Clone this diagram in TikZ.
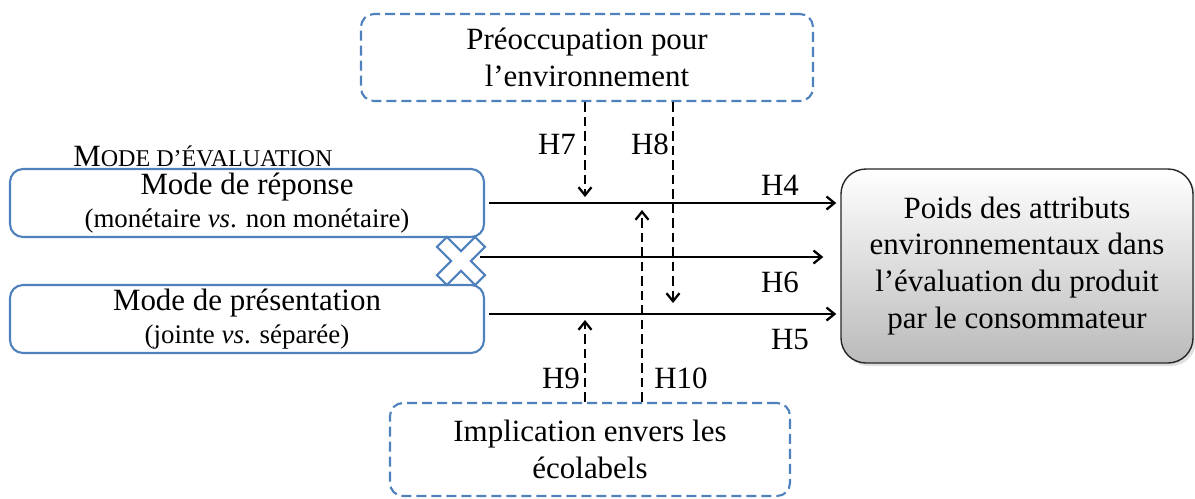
\documentclass[tikz,border=0pt]{standalone}
\usepackage{fontspec}
\setmainfont{Liberation Serif}
\usepackage{tikz}
\usetikzlibrary{arrows.meta}
\usetikzlibrary{shadows}
\definecolor{boxblue}{RGB}{79,129,189}
\newcommand{\bigtxt}{\fontsize{17.6}{21}\selectfont}
\newcommand{\smalltxt}{\fontsize{15.3}{18}\selectfont}
\newcommand{\sctxt}{\fontsize{13.7}{16}\selectfont}
\tikzset{>={Straight Barb[length=1.6mm,width=2.6mm]}}
\tikzset{modebox/.style={draw=boxblue, line width=1.2pt, rounded corners=2.6mm,
    minimum width=9.48cm, minimum height=1.36cm, align=center, inner sep=0pt}}
\tikzset{modbox/.style={draw=boxblue, line width=1.2pt, dash pattern=on 2mm off 1mm,
    rounded corners=2.6mm, align=center, inner sep=0pt}}
\tikzset{poidsbox/.style={draw=black!85, line width=0.8pt, rounded corners=5mm,
    top color=white, bottom color=black!27, minimum width=7.04cm, minimum height=3.88cm,
    align=center, inner sep=0pt,
    drop shadow={opacity=0.25, shadow xshift=0.6mm, shadow yshift=-0.6mm}}}
\tikzset{effect/.style={->, line width=1.3pt}}
\tikzset{moder/.style={->, line width=1.3pt, dash pattern=on 1.9mm off 1mm}}
\tikzset{hyp/.style={inner sep=0pt}}

\begin{document}
\begin{tikzpicture}[x=0.2mm, y=-0.2mm, font=\bigtxt]
\useasboundingbox (0,0) rectangle (1195,498);
    %boxes
    \node[modbox, minimum width=9.04cm, minimum height=1.74cm] (env) at (587,57.5)
        {Préoccupation pour\\l’environnement};
    \node[modebox] (rep) at (247,203)
        {Mode de réponse\\[-2.3pt]{\smalltxt (monétaire \textit{vs}. non monétaire)}};
    \node[modebox] (pres) at (247,319)
        {Mode de présentation\\[-2.3pt]{\smalltxt (jointe \textit{vs}. séparée)}};
    \node[modbox, minimum width=8cm, minimum height=1.86cm] (eco) at (590,449.5)
        {Implication envers les\\écolabels};
    \node[poidsbox] (poids) at (1017,266)
        {Poids des attributs\\environnementaux dans\\l’évaluation du produit\\par le consommateur};
    \node[hyp, anchor=base west] (mode) at (73,166) {M{\sctxt ODE D’ÉVALUATION}};
    %points
    \coordinate (c4) at ([xshift=0.8mm]rep.east);
    \coordinate (c6) at (480,257);
    \coordinate (c5) at ([xshift=0.8mm, yshift=1mm]pres.east);
    \coordinate (x7) at (585,0);
    \coordinate (x8) at (673,0);
    \coordinate (x10) at (642,0);
    %effects
    \draw[effect, shorten >=0.8mm] (c4) -- (c4 -| poids.west);
    \draw[effect, shorten >=3.4mm] (c6) -- (c6 -| poids.west);
    \draw[effect, shorten >=0.8mm] (c5) -- (c5 -| poids.west);
    %interaction
    \draw[boxblue, line width=1.2pt, fill=white, shift={(461,261)}, rotate=45]
        (7,7) -- (7,27) -- (-7,27) -- (-7,7) -- (-27,7) -- (-27,-7) -- (-7,-7)
        -- (-7,-27) -- (7,-27) -- (7,-7) -- (27,-7) -- (27,7) -- cycle;
    %moderators
    \draw[moder, shorten >=1.2mm] (env.south -| x7) -- (c4 -| x7);
    \draw[moder, shorten >=2.2mm] (env.south -| x8) -- (c5 -| x8);
    \draw[moder, shorten >=1.2mm] (eco.north -| x7) -- (c5 -| x7);
    \draw[moder, shorten >=1.4mm] (eco.north -| x10) -- (c4 -| x10);
    %labels
    \node[hyp] (h7) at (557,144) {H7};
    \node[hyp] (h8) at (650,144) {H8};
    \node[hyp] (h4) at (780,185) {H4};
    \node[hyp] (h6) at (780,282) {H6};
    \node[hyp] (h5) at (790,340) {H5};
    \node[hyp] (h9) at (561,378) {H9};
    \node[hyp] (h10) at (681,378) {H10};
\end{tikzpicture}
\end{document}
